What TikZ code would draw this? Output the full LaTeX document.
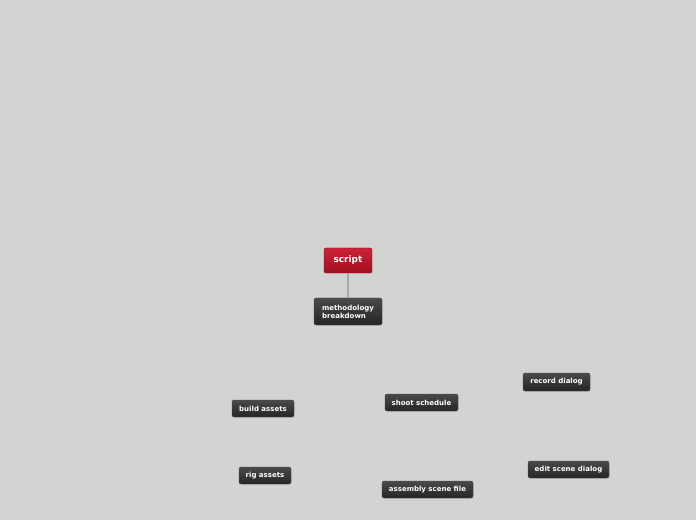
\documentclass[tikz,border=0pt]{standalone}
\usepackage{fontspec}
\setmainfont{DejaVu Sans}
\usetikzlibrary{shadows}
\definecolor{bg}{HTML}{D2D4D1}
\definecolor{darktop}{HTML}{4A4A4A}
\definecolor{darkbot}{HTML}{252525}
\definecolor{redtop}{HTML}{CC2238}
\definecolor{redbot}{HTML}{A0101F}
\definecolor{linkgrey}{HTML}{A8AAA7}
\begin{document}
\begin{tikzpicture}[x=1pt,y=1pt,
  topic/.style={rounded corners=2pt, draw=black!70, line width=0.4pt,
    top color=darktop, bottom color=darkbot, text=white,
    font=\fontsize{7}{8.2}\selectfont\bfseries, inner sep=0pt, align=left,
    drop shadow={shadow xshift=0.6pt, shadow yshift=-0.6pt, opacity=0.25}},
  root/.style={topic, draw=redbot!80!black, top color=redtop, bottom color=redbot,
    font=\fontsize{9}{10}\selectfont\bfseries},
  link/.style={draw=linkgrey, line width=1.2pt}]
\fill[bg] (0,0) rectangle (696,520);
\useasboundingbox (0,0) rectangle (696,520);
\node[root, minimum width=48, minimum height=25] (script) at (348,259.5) {script};
\node[topic, minimum width=68, minimum height=27] (meth) at (348,208.5) {methodology\\breakdown};
\node[topic, minimum width=62, minimum height=17] (build) at (263,111.5) {build assets};
\node[topic, minimum width=73, minimum height=17] (shoot) at (421.5,117.5) {shoot schedule};
\node[topic, minimum width=67, minimum height=18] (record) at (556.5,138) {record dialog};
\node[topic, minimum width=81, minimum height=17] (edit) at (568.5,50.5) {edit scene dialog};
\node[topic, minimum width=52, minimum height=17] (rig) at (265,44.5) {rig assets};
\node[topic, minimum width=91, minimum height=17] (assembly) at (427.5,30.5) {assembly scene file};
\draw[link] (script.south) -- (meth.north);
\end{tikzpicture}
\end{document}
